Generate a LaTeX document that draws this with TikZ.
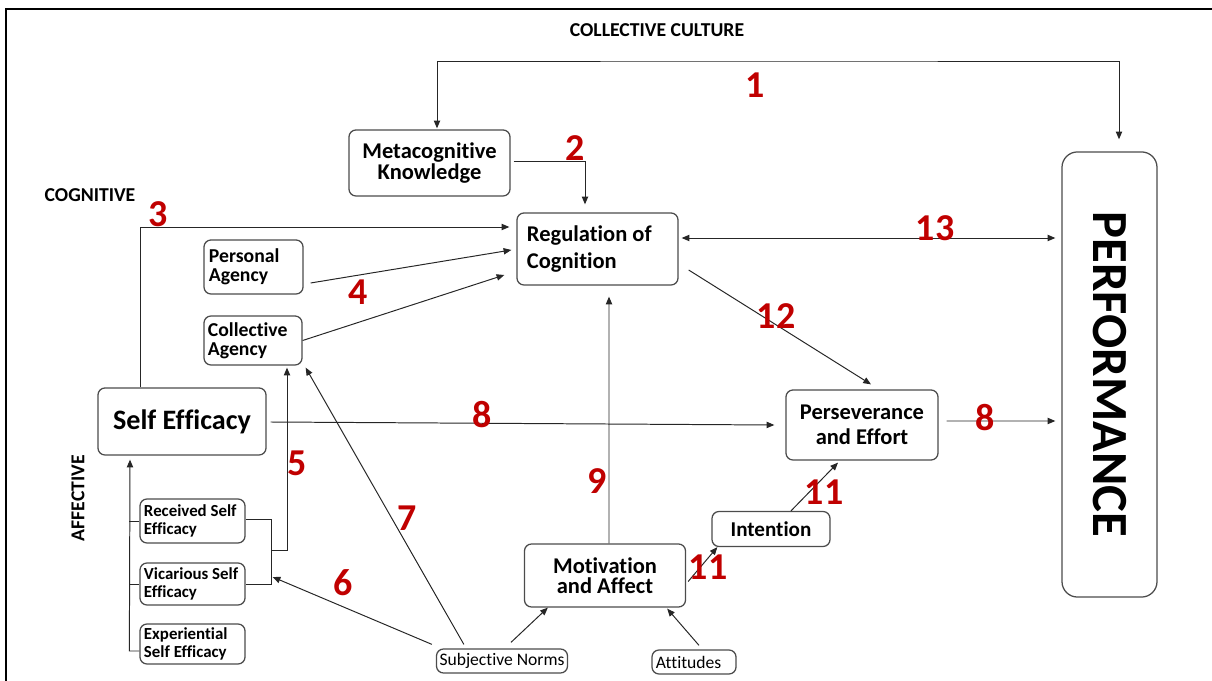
\documentclass[tikz,border=0pt]{standalone}
\usepackage{fontspec}
\setmainfont{Carlito}[Ligatures={NoCommon,NoContextual}]
\usetikzlibrary{arrows.meta,calc}
\definecolor{numred}{RGB}{192,0,0}
\begin{document}
\begin{tikzpicture}[x=0.025cm,y=-0.025cm,
  box/.style={draw=black!70,line width=0.9pt,rounded corners=5pt,inner sep=2pt,align=center},
  fs/.style 2 args={font=\fontsize{#1}{#2}\selectfont\bfseries},
  link/.style={draw=black!85,line width=0.7pt},
  arr/.style={link,-{Triangle[length=5.5pt,width=4.5pt]}},
  both/.style={link,{Triangle[length=5.5pt,width=4.5pt]}-{Triangle[length=5.5pt,width=4.5pt]}},
  num/.style={text=numred,font=\fontsize{27}{27}\selectfont\bfseries,inner sep=0pt},
  tag/.style={font=\fontsize{14}{14}\selectfont\bfseries,inner sep=0pt}]
\useasboundingbox (0,0) rectangle (1212,681);
\draw[line width=1.8pt] (6,681) -- (6,9) -- (1212,9);

\node[tag] (cult) at (657,30) {COLLECTIVE CULTURE};
\node[tag] (cogn) at (90,195) {COGNITIVE};
\node[tag,rotate=90] (affe) at (78,498) {AFFECTIVE};

\node[box,fs={16}{15},minimum width=4.025cm,minimum height=1.65cm] (meta) at (429.5,163) {Metacognitive\\Knowledge};
\node[box,fs={16}{19},align=flush left,text width=3.525cm,inner xsep=0.25cm,minimum height=1.8cm] (reg) at (597.5,249) {Regulation of\\Cognition};
\node[box,fs={14}{13.5},align=flush left,text width=2.225cm,inner xsep=0.125cm,minimum height=1.35cm] (pa) at (253.5,267) {Personal\\Agency};
\node[box,fs={14}{13.5},align=flush left,text width=2.25cm,inner xsep=0.1cm,minimum height=1.225cm] (ca) at (253,340.5) {Collective\\Agency};
\node[box,fs={20}{20},minimum width=4.2cm,minimum height=1.675cm] (se) at (182,421.5) {Self Efficacy};
\node[box,fs={12}{13},align=flush left,text width=2.425cm,inner xsep=0.1cm,minimum height=1.1cm] (rse) at (192.5,521) {Received Self\\Efficacy};
\node[box,fs={12}{13},align=flush left,text width=2.425cm,inner xsep=0.1cm,minimum height=1.05cm] (vse) at (192.5,584) {Vicarious Self\\Efficacy};
\node[box,fs={12}{13},align=flush left,text width=2.425cm,inner xsep=0.1cm,minimum height=1cm] (ese) at (192.5,644) {Experiential\\Self Efficacy};
\node[box,fs={16}{14.5},minimum width=4.025cm,minimum height=1.575cm] (mot) at (605,575.5) {Motivation\\and Affect};
\node[box,fs={15}{15},minimum width=2.95cm,minimum height=0.875cm] (intn) at (771,529) {Intention};
\node[box,fs={16}{18},minimum width=3.8cm,minimum height=1.75cm] (pe) at (862,425) {Perseverance\\and Effort};
\node[box,rounded corners=11pt,minimum width=2.375cm,minimum height=11.125cm] (perf) at (1109.5,374.5) {};
\node[fs={36}{36},rotate=-90,inner sep=0pt] (perftext) at (perf.center) {PERFORMANCE};
\node[box,font=\fontsize{12.5}{12.5}\selectfont,minimum width=3.275cm,minimum height=0.6cm] (sn) at (502,661) {Subjective Norms};
\node[box,font=\fontsize{12.5}{12.5}\selectfont,align=flush left,text width=1.9cm,inner xsep=0.1cm,minimum height=0.6cm] (att) at (694,662) {Attitudes};

\coordinate (ctop) at (760,61);
\coordinate (jn) at (271,550);

\draw[both] ($(meta.north)+(7.5,-1)$) |- (ctop) -| ($(perf.north)+(9.5,-12)$);
\draw[arr] ($(meta.east)+(3,-2)$) -| ($(reg.north)+(-12.5,-8)$);
\draw[arr] ($(se.north)+(-42,0)$) |- ($(reg.west)+(-7,-22)$);
\draw[arr] ($(pa.east)+(7,16)$) -- ($(reg.west)+(-5,1)$);
\draw[arr] (ca.east) -- ($(reg.west)+(-12,26)$);
\draw[arr] ($(se.east)+(4,0.5)$) -- ($(pe.west)+(-11,0)$);
\draw[arr] ($(pe.east)+(8,-4)$) -- ($(perf.west)+(-6,46.5)$);
\draw[both] ($(reg.east)+(3,-11)$) -- ($(perf.west)+(-6,-136.5)$);
\draw[arr] ($(reg.east)+(10,21)$) -- ($(pe.north)+(9,-5)$);
\draw[arr] ($(mot.north)+(4,0)$) -- ($(reg.south)+(11.5,11)$);
\draw[arr] ($(mot.east)+(2,6)$) -- ($(intn.south west)+(6,0)$);
\draw[arr] ($(intn.north)+(20,0)$) -- ($(pe.south)+(-24,2)$);

\draw[arr] ($(ese.west)+(0,7)$) -- ++(-10,0) -- ($(se.south)+(-52,4)$);
\draw[link] (rse.west) -- ++(-10,0);
\draw[link] (vse.west) -- ++(-10,0);
\draw[link] ($(rse.east)+(0,-2)$) -| ($(vse.east)+(26,0)$) -- (vse.east);
\draw[arr] (jn) -- ++(16,0) -- ($(ca.south)+(34,2)$);
\draw[arr] ($(sn.north west)+(-4,-4)$) -- ($(vse.east)+(27,-7)$);
\draw[arr] ($(sn.north west)+(28,-4)$) -- ($(ca.south east)+(3,2)$);
\draw[arr] ($(sn.north)+(9,-6)$) -- ($(mot.south west)+(24,0)$);
\draw[arr] ($(att.north)+(5,-4)$) -- ($(mot.south east)+(-19,1)$);

\foreach \t/\x/\y [count=\i] in {1/755/85, 2/575/148, 3/158/214, 4/358/292, 5/297/463, 6/343/583, 7/407/518, 8/482/415, 8/985/418, 9/597/481, 11/708/567, 11/824/492, 12/776/316, 13/935/228}
  \node[num] (n\i) at (\x,\y) {\t};
\end{tikzpicture}
\end{document}
